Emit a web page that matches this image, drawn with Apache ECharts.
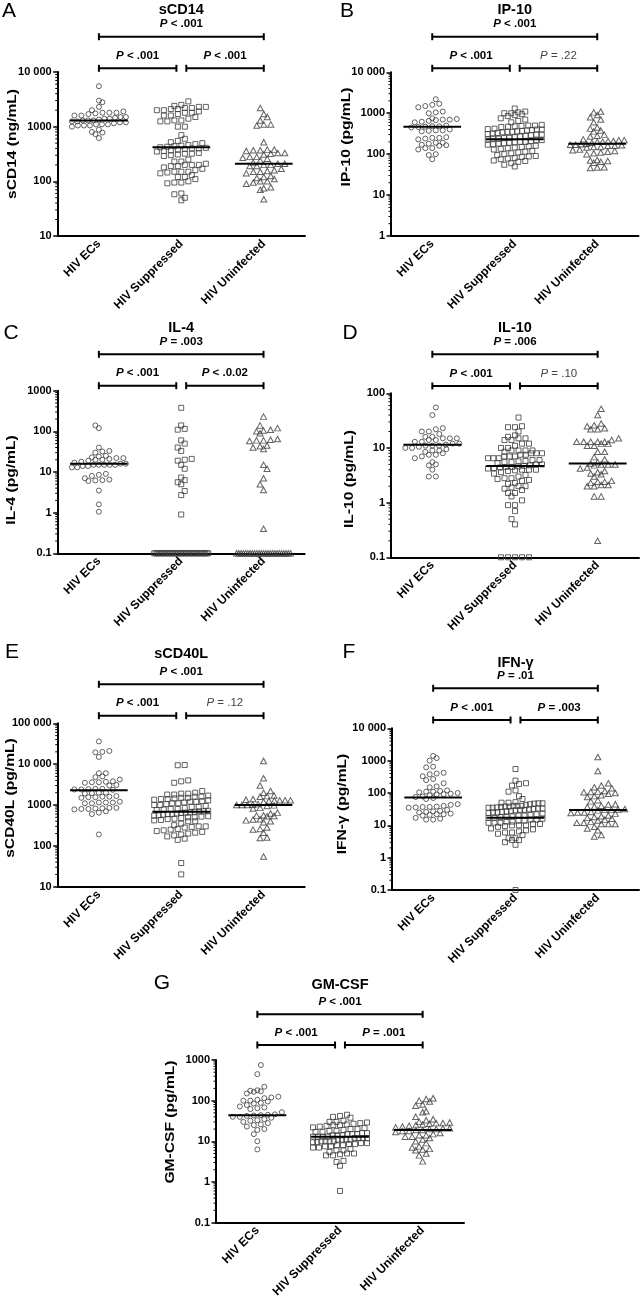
<!DOCTYPE html>
<html><head><meta charset="utf-8">
<script src="https://cdn.jsdelivr.net/npm/echarts@6/dist/echarts.min.js"></script>
<style>html,body{margin:0;padding:0;background:#fff}#c{width:641px;height:1300px}</style>
</head><body><div id="c"></div>
<script>
// ---------------- DATA ----------------
const categories = ['HIV ECs', 'HIV Suppressed', 'HIV Uninfected'];

// A: sCD14 (ng/mL)
const sCD14_ECs = [5500, 3000, 2800, 2300, 2000, 1900, 1800, 1800, 1750, 1800, 1700, 1600, 1600, 1500, 1500, 1450, 1400, 1400, 1350, 1300, 1300, 1300, 1250, 1250, 1200, 1200, 1150, 1100, 1100, 1100, 1050, 1050, 1050, 1000, 880, 800, 780, 730, 620];
const sCD14_Supp = [2900, 2500, 2400, 2300, 2300, 2200, 2200, 2100, 2100, 2000, 2000, 1900, 1800, 1800, 1700, 1600, 1600, 1500, 1400, 1300, 1300, 1250, 1250, 1000, 1000, 700, 600, 550, 520, 500, 480, 460, 450, 440, 430, 420, 410, 400, 400, 390, 380, 370, 360, 350, 330, 320, 320, 310, 300, 290, 250, 230, 230, 210, 200, 200, 200, 190, 190, 180, 170, 160, 150, 150, 150, 145, 140, 130, 120, 120, 110, 100, 95, 95, 92, 60, 58, 50, 45];
const sCD14_Unin = [2200, 1700, 1500, 1300, 1100, 1100, 1050, 520, 380, 380, 370, 370, 360, 330, 330, 320, 310, 280, 280, 270, 260, 240, 220, 210, 210, 200, 200, 190, 190, 170, 160, 155, 150, 150, 140, 125, 120, 115, 110, 100, 100, 95, 90, 78, 75, 70, 47];
const sCD14_median = [1300, 420, 210];
const sCD14_p = ['< .001', '< .001', '< .001'];
const sCD14_sig = [true, true, true];

// B: IP-10 (pg/mL)
const IP10_ECs = [2200, 1700, 1600, 1500, 1400, 1100, 1050, 1000, 750, 720, 700, 700, 680, 650, 620, 600, 500, 480, 480, 470, 460, 450, 400, 380, 380, 370, 360, 260, 250, 250, 240, 230, 190, 190, 180, 170, 165, 160, 140, 140, 130, 100, 95, 75];
const IP10_Supp = [1300, 1100, 1050, 1000, 1000, 950, 900, 850, 750, 700, 650, 600, 520, 500, 500, 490, 480, 470, 460, 420, 410, 400, 400, 390, 380, 370, 360, 350, 350, 340, 330, 320, 310, 300, 300, 290, 280, 270, 260, 250, 250, 240, 240, 230, 220, 220, 210, 200, 200, 195, 190, 185, 180, 175, 170, 160, 155, 150, 145, 140, 135, 130, 120, 115, 110, 105, 100, 95, 90, 88, 85, 80, 78, 75, 70, 68, 65, 60, 55, 50];
const IP10_Unin = [1100, 1050, 900, 800, 700, 600, 450, 420, 380, 360, 300, 280, 270, 230, 220, 220, 210, 210, 200, 200, 190, 180, 175, 170, 170, 165, 160, 160, 150, 150, 145, 130, 125, 120, 115, 110, 105, 100, 72, 70, 68, 65, 62, 48, 47, 46];
const IP10_median = [470, 230, 180];
const IP10_p = ['< .001', '< .001', '= .22'];
const IP10_sig = [true, true, false];

// C: IL-4 (pg/mL)
const IL4_ECs = [140, 120, 40, 33, 32, 30, 25, 24, 23, 22, 22, 21, 20, 20, 19, 18, 17, 16, 16, 15, 15, 15, 15, 15, 14, 14, 13, 13, 9, 8.5, 8, 7, 6.5, 6.3, 6.2, 6, 3.5, 1.6, 1.05];
const IL4_Supp = [380, 140, 115, 110, 60, 50, 40, 33, 21, 20, 19, 15, 12, 7.3, 6.3, 5.6, 5, 3.4, 2.7, 0.9,
  0.1, 0.1, 0.1, 0.1, 0.1, 0.1, 0.1, 0.1, 0.1, 0.1, 0.1, 0.1, 0.1, 0.1, 0.1, 0.1, 0.1, 0.1, 0.1, 0.1,
  0.1, 0.1, 0.1, 0.1, 0.1, 0.1, 0.1, 0.1, 0.1, 0.1, 0.1, 0.1, 0.1, 0.1, 0.1];
const IL4_Unin = [230, 140, 120, 110, 105, 100, 90, 65, 62, 60, 60, 58, 45, 43, 40, 37, 15, 12, 7, 5, 3.6, 0.4,
  0.1, 0.1, 0.1, 0.1, 0.1, 0.1, 0.1, 0.1, 0.1, 0.1, 0.1, 0.1, 0.1, 0.1, 0.1, 0.1, 0.1, 0.1, 0.1, 0.1,
  0.1, 0.1, 0.1, 0.1, 0.1];
const IL4_median = [16, null, null];
const IL4_p = ['= .003', '< .001', '< .0.02'];
const IL4_sig = [true, true, true];

// D: IL-10 (pg/mL)
const IL10_ECs = [55, 40, 23, 22, 20, 20, 18, 16, 16, 15, 15, 15, 14, 14, 13, 13, 12, 12, 11.5, 11, 11, 11, 10.5, 10, 10, 9.5, 9, 9, 8.5, 8, 7.5, 7.5, 7, 6.5, 5.5, 5, 4.8, 4, 3, 3];
const IL10_Supp = [36, 25, 24, 24, 20, 17, 16, 15, 15, 14, 14, 12, 12, 11, 10, 10, 9, 9, 9, 9, 8.5, 8, 8, 8, 7.5, 7.5, 7, 7, 7, 6.5, 6.5, 6.5, 6, 6, 5.8, 5.7, 5.5, 5.5, 5.3, 5, 5, 4.8, 4.7, 4.6, 4.5, 4.5, 4.4, 4.3, 4.2, 4, 4, 4, 3.9, 3.8, 3.6, 3.4, 3.2, 3, 2.8, 2.8, 2.7, 2.6, 2.5, 2.3, 2.2, 2, 2, 1.9, 1.8, 1.7, 1.5, 1.5, 1.3, 1.1, 0.9, 0.9, 0.7, 0.5, 0.4, 0.1, 0.1, 0.1, 0.1, 0.1];
const IL10_Unin = [52, 40, 28, 26, 25, 23, 22, 22, 15, 14, 13, 13, 13, 13, 13, 12, 12, 11, 11, 8.5, 8.5, 6.8, 6.2, 5.5, 5.2, 5, 5, 5, 4.8, 4.4, 4.2, 3.8, 3.6, 3.4, 3.3, 3, 2.5, 2.4, 2.4, 2.3, 2.1, 2.1, 2, 2, 1.3, 1.3, 0.2];
const IL10_median = [11.5, 4.7, 5.2];
const IL10_p = ['= .006', '< .001', '= .10'];
const IL10_sig = [true, true, false];

// E: sCD40L (pg/mL)
const sCD40L_ECs = [36000, 21000, 20000, 19500, 15000, 6000, 6000, 5000, 4800, 4200, 3800, 3700, 3600, 3600, 3500, 3100, 3000, 2500, 2500, 2450, 2400, 2400, 2350, 2000, 2000, 1950, 1900, 1650, 1600, 1600, 1550, 1550, 1500, 1200, 1150, 1150, 1150, 1100, 1100, 850, 850, 830, 820, 800, 800, 780, 700, 650, 600, 190];
const sCD40L_Supp = [9500, 9400, 4000, 3800, 3500, 2200, 2000, 1900, 1900, 1800, 1800, 1700, 1600, 1600, 1500, 1500, 1450, 1400, 1400, 1350, 1300, 1250, 1200, 1200, 1150, 1100, 1100, 1050, 1000, 1000, 950, 900, 900, 850, 800, 800, 780, 750, 720, 700, 700, 680, 660, 650, 640, 620, 600, 600, 580, 560, 550, 530, 520, 500, 500, 480, 460, 450, 430, 420, 400, 400, 350, 320, 300, 300, 290, 280, 260, 250, 240, 230, 220, 210, 200, 190, 180, 170, 150, 140, 38, 20];
const sCD40L_Unin = [12000, 4500, 3000, 2200, 2000, 1700, 1650, 1600, 1400, 1350, 1300, 1300, 1300, 1280, 1250, 1200, 1050, 1020, 1000, 1000, 1000, 980, 950, 850, 820, 650, 620, 560, 550, 540, 530, 450, 440, 420, 400, 380, 280, 260, 250, 210, 160, 155, 55];
const sCD40L_median = [2300, 680, 1000];
const sCD40L_p = ['< .001', '< .001', '= .12'];
const sCD40L_sig = [true, true, false];

// F: IFN-γ (pg/mL)
const IFNg_ECs = [1400, 1200, 1000, 650, 620, 420, 400, 380, 330, 270, 250, 200, 160, 150, 120, 115, 110, 110, 105, 100, 95, 92, 90, 85, 78, 75, 70, 65, 45, 43, 40, 38, 37, 37, 36, 35, 30, 28, 27, 26, 25, 23, 22, 22, 21, 20, 17, 16, 15, 15];
const IFNg_Supp = [550, 240, 200, 190, 170, 120, 110, 80, 65, 52, 50, 50, 48, 48, 47, 45, 42, 40, 40, 40, 38, 38, 37, 36, 35, 35, 33, 33, 32, 31, 30, 30, 29, 28, 27, 26, 25, 25, 24, 23, 22, 21, 20, 20, 19, 18, 18, 17, 17, 16, 15, 15, 14, 14, 13, 13, 12, 12, 12, 11, 11, 10, 10, 10, 9.5, 9, 8, 7.5, 7, 6.5, 6, 6, 5.5, 5, 4, 4, 3.5, 3.5, 3, 2.5, 0.1];
const IFNg_Unin = [1300, 480, 200, 170, 150, 140, 115, 110, 108, 105, 100, 95, 85, 80, 75, 60, 55, 45, 44, 40, 38, 37, 32, 31, 30, 30, 29, 26, 25, 25, 24, 23, 20, 19, 18, 17, 16, 15, 14, 13, 12, 12, 11, 11, 11, 9, 8, 7, 5, 4.5];
const IFNg_median = [72, 17, 30];
const IFNg_p = ['= .01', '< .001', '= .003'];
const IFNg_sig = [true, true, true];

// G: GM-CSF (pg/mL)
const GMCSF_ECs = [750, 450, 220, 180, 175, 170, 165, 150, 125, 120, 115, 105, 100, 100, 95, 88, 85, 78, 72, 68, 65, 62, 52, 46, 45, 44, 43, 42, 40, 40, 38, 35, 33, 32, 30, 28, 26, 25, 23, 20, 19, 15, 10, 6.3];
const GMCSF_Supp = [45, 42, 40, 38, 32, 30, 30, 29, 28, 27, 26, 25, 25, 24, 23, 22, 21, 20, 20, 19, 18, 18, 17, 17, 16, 16, 15, 15, 15, 14, 14, 14, 13, 13, 13, 13, 12, 12, 12, 12, 11, 11, 11, 11, 10, 10, 10, 10, 9.5, 9.5, 9, 9, 8.5, 8.5, 8, 8, 7.5, 7.5, 7, 7, 6.5, 6, 6, 5.5, 5, 5, 4.8, 4.5, 4.5, 3.3, 3.1, 2.5, 0.6];
const GMCSF_Unin = [115, 110, 100, 95, 80, 75, 55, 52, 40, 35, 33, 30, 29, 28, 28, 27, 26, 25, 24, 23, 22, 21, 21, 20, 20, 19, 19, 18, 18, 17, 16, 15, 14, 14, 13, 13, 12, 11, 10, 9, 7.5, 7, 6.5, 6.3, 6, 5, 4.5, 3.2];
const GMCSF_median = [44, 13, 19];
const GMCSF_p = ['< .001', '< .001', '= .001'];
const GMCSF_sig = [true, true, true];

// ---------------- LAYOUT ----------------
const FONT = '"Liberation Sans", Arial, Helvetica, sans-serif';
const panels = [
  {letter: 'A', title: 'sCD14', yName: 'sCD14 (ng/mL)', groups: [sCD14_ECs, sCD14_Supp, sCD14_Unin], med: sCD14_median, p: sCD14_p, sig: sCD14_sig,
   min: 10, max: 10000, grid: {left: 57.7, top: 72, width: 247.3, height: 164}, br: [36.7, 68.3], titleY: 10, letterXY: [9, 11], nameXY: [13, 144]},
  {letter: 'B', title: 'IP-10', yName: 'IP-10 (pg/mL)', groups: [IP10_ECs, IP10_Supp, IP10_Unin], med: IP10_median, p: IP10_p, sig: IP10_sig,
   min: 1, max: 10000, grid: {left: 391, top: 72.3, width: 247.5, height: 163.7}, br: [36.7, 68.3], titleY: 9.5, letterXY: [347, 11], nameXY: [347, 137]},
  {letter: 'C', title: 'IL-4', yName: 'IL-4 (pg/mL)', groups: [IL4_ECs, IL4_Supp, IL4_Unin], med: IL4_median, p: IL4_p, sig: IL4_sig,
   min: 0.1, max: 1000, grid: {left: 57.7, top: 390.7, width: 247, height: 162.6}, br: [354.3, 385.7], titleY: 327.5, letterXY: [11, 333], nameXY: [12, 480]},
  {letter: 'D', title: 'IL-10', yName: 'IL-10 (pg/mL)', groups: [IL10_ECs, IL10_Supp, IL10_Unin], med: IL10_median, p: IL10_p, sig: IL10_sig,
   min: 0.1, max: 100, grid: {left: 391, top: 393.3, width: 248, height: 164}, br: [354.3, 386], titleY: 327.5, letterXY: [350, 333], nameXY: [350, 479]},
  {letter: 'E', title: 'sCD40L', yName: 'sCD40L (pg/mL)', groups: [sCD40L_ECs, sCD40L_Supp, sCD40L_Unin], med: sCD40L_median, p: sCD40L_p, sig: sCD40L_sig,
   min: 10, max: 100000, grid: {left: 57.7, top: 723.3, width: 247, height: 163.4}, br: [684.3, 715.7], titleY: 653.5, letterXY: [12, 652], nameXY: [11, 798]},
  {letter: 'F', title: 'IFN-γ', yName: 'IFN-γ (pg/mL)', groups: [IFNg_ECs, IFNg_Supp, IFNg_Unin], med: IFNg_median, p: IFNg_p, sig: IFNg_sig,
   min: 0.1, max: 10000, grid: {left: 392, top: 728.3, width: 247, height: 161.7}, br: [688.3, 720], titleY: 663, letterXY: [349, 652], nameXY: [343, 804]},
  {letter: 'G', title: 'GM-CSF', yName: 'GM-CSF (pg/mL)', groups: [GMCSF_ECs, GMCSF_Supp, GMCSF_Unin], med: GMCSF_median, p: GMCSF_p, sig: GMCSF_sig,
   min: 0.1, max: 1000, grid: {left: 216, top: 1060, width: 248, height: 162.7}, br: [1014.3, 1045], titleY: 985, letterXY: [162, 983.5], nameXY: [171, 1122]}
];
const symbols = ['circle', 'rect', 'triangle'];

// column-scatter layout: values sharing a row (pixel bin) are spread side by side;
// neighbouring rows are staggered by half a step so points do not stack in columns
function columnScatter(values, P, center) {
  const ppd = P.grid.height / (Math.log10(P.max) - Math.log10(P.min));
  const ppx = P.grid.width / 3;
  const rowH = 5.2, step0 = 7, maxHalf = 27;
  const bins = new Map();
  values.forEach(v => {
    const k = Math.round(Math.log10(v) * ppd / rowH);
    if (!bins.has(k)) bins.set(k, []);
    bins.get(k).push(v);
  });
  const keys = Array.from(bins.keys()).sort((a, b) => a - b);
  const placed = new Map();
  const out = [];
  keys.forEach(k => {
    const arr = bins.get(k).sort((a, b) => a - b);
    const n = arr.length;
    const step = n > 1 ? Math.min(step0, 2 * maxHalf / (n - 1)) : 0;
    let offs = arr.map((v, i) => (i - (n - 1) / 2) * step);
    const prev = placed.get(k - 1);
    if (prev && n * step0 < 2 * maxHalf) {
      const clash = offs.some(o => prev.some(q => Math.abs(q - o) < 3));
      if (clash) {
        const sh = (k % 2 === 0 ? 1 : -1) * step0 / 2;
        offs = offs.map(o => o + sh);
      }
    }
    placed.set(k, offs);
    arr.forEach((v, i) => out.push([center + offs[i] / ppx, v]));
  });
  return out;
}

function fmtTick(v) {
  const n = +(+v).toPrecision(4);
  if (n >= 10000) return String(n).replace(/\B(?=(\d{3})+(?!\d))/g, ' ');
  return String(n);
}

const grid = [], xAxis = [], yAxis = [], series = [], graphic = [];
panels.forEach((P, i) => {
  grid.push(Object.assign({containLabel: false}, P.grid));
  xAxis.push({
    gridIndex: i, type: 'category', data: categories, boundaryGap: true,
    axisLine: {lineStyle: {color: '#000', width: 2}},
    axisTick: {alignWithLabel: true, interval: 0, length: 4, lineStyle: {color: '#000', width: 1.5}},
    axisLabel: {rotate: 45, interval: 0, margin: 6, fontSize: 12, fontWeight: 'bold', color: '#000', fontFamily: FONT},
    splitLine: {show: false}
  });
  xAxis.push({gridIndex: i, type: 'value', min: 0.5, max: 3.5, show: false});
  yAxis.push({
    gridIndex: i, type: 'log', logBase: 10, min: P.min, max: P.max,
    axisLine: {show: true, lineStyle: {color: '#000', width: 2}},
    axisTick: {show: true, length: 4.5, lineStyle: {color: '#000', width: 1.5}},
    axisLabel: {margin: 6, fontSize: 11, fontWeight: 'bold', color: '#000', fontFamily: FONT, formatter: fmtTick},
    splitLine: {show: false}
  });
  const xi = 2 * i + 1;
  // points
  P.groups.forEach((vals, g) => {
    series.push({
      type: 'scatter', xAxisIndex: xi, yAxisIndex: i, clip: false, silent: true,
      symbol: symbols[g], symbolSize: g === 2 ? [6, 5.5] : 5,
      itemStyle: {color: 'rgba(255,255,255,0)', borderColor: '#3c3c3c', borderWidth: 1},
      data: columnScatter(vals, P, g + 1), z: 3
    });
  });
  // medians
  series.push({
    type: 'custom', xAxisIndex: xi, yAxisIndex: i, silent: true, z: 4,
    data: P.med.map((m, g) => m == null ? null : [g + 1, m]).filter(d => d),
    renderItem: (params, api) => {
      const c = api.value(0), m = api.value(1);
      const a = api.coord([c - 0.35, m]), b = api.coord([c + 0.35, m]);
      return {type: 'line', shape: {x1: a[0], y1: a[1], x2: b[0], y2: b[1]}, style: {stroke: '#000', lineWidth: 2}};
    }
  });
  // minor log ticks
  const minor = [];
  for (let d = Math.round(Math.log10(P.min)); d < Math.round(Math.log10(P.max)); d++) {
    for (let k = 2; k <= 9; k++) minor.push([0.5, +(k * Math.pow(10, d)).toPrecision(3)]);
  }
  series.push({
    type: 'custom', xAxisIndex: xi, yAxisIndex: i, silent: true, z: 2, data: minor,
    renderItem: (params, api) => {
      const p = api.coord([api.value(0), api.value(1)]);
      return {type: 'line', shape: {x1: p[0] - 2.5, y1: p[1], x2: p[0], y2: p[1]}, style: {stroke: '#000', lineWidth: 1}};
    }
  });
  // significance brackets
  const gap = 0.06;
  series.push({
    type: 'custom', xAxisIndex: xi, yAxisIndex: i, silent: true, z: 5,
    encode: {x: [0, 2], y: 1},
    data: [[1, P.max, 3], [1, P.max, 2 - gap], [2 + gap, P.max, 3]],
    renderItem: (params, api) => {
      const idx = params.dataIndex;
      const x1 = api.coord([api.value(0), api.value(1)])[0];
      const x2 = api.coord([api.value(2), api.value(1)])[0];
      const y = P.br[idx === 0 ? 0 : 1];
      const sig = P.sig[idx];
      const col = sig ? '#000' : '#444';
      const w = sig ? 'bold' : 'normal';
      return {type: 'group', children: [
        {type: 'line', shape: {x1: x1, y1: y, x2: x2, y2: y}, style: {stroke: '#000', lineWidth: 2}},
        {type: 'line', shape: {x1: x1, y1: y - 3.5, x2: x1, y2: y + 3.5}, style: {stroke: '#000', lineWidth: 2}},
        {type: 'line', shape: {x1: x2, y1: y - 3.5, x2: x2, y2: y + 3.5}, style: {stroke: '#000', lineWidth: 2}},
        {type: 'text', style: {
          x: (x1 + x2) / 2, y: y - 12.5, text: '{i|P} ' + P.p[idx],
          align: 'center', verticalAlign: 'middle', textAlign: 'center', textVerticalAlign: 'middle',
          fill: col, fontSize: 11.5, fontWeight: w, fontFamily: FONT,
          rich: {i: {fontStyle: 'italic', fontWeight: w, fontSize: 11.5, fontFamily: FONT, fill: col}}
        }}
      ]};
    }
  });
  // texts: panel letter, title, axis name
  graphic.push({type: 'text', x: P.letterXY[0], y: P.letterXY[1], silent: true,
    style: {text: P.letter, font: '21px ' + FONT, fill: '#000', align: 'center', verticalAlign: 'middle', textAlign: 'center', textVerticalAlign: 'middle'}});
  graphic.push({type: 'text', x: P.grid.left + P.grid.width / 2, y: P.titleY, silent: true,
    style: {text: P.title, font: 'bold 14.5px ' + FONT, fill: '#000', align: 'center', verticalAlign: 'middle', textAlign: 'center', textVerticalAlign: 'middle'}});
  graphic.push({type: 'text', x: P.nameXY[0], y: P.nameXY[1], rotation: Math.PI / 2, scaleX: 1.3, silent: true,
    style: {text: P.yName, font: 'bold 12px ' + FONT, fill: '#000', align: 'center', verticalAlign: 'middle', textAlign: 'center', textVerticalAlign: 'middle'}});
});

const chart = echarts.init(document.getElementById('c'), null, {renderer: 'canvas'});
chart.setOption({
  animation: false,
  backgroundColor: '#fff',
  textStyle: {fontFamily: FONT},
  grid, xAxis, yAxis, series, graphic
});
</script>
</body></html>
